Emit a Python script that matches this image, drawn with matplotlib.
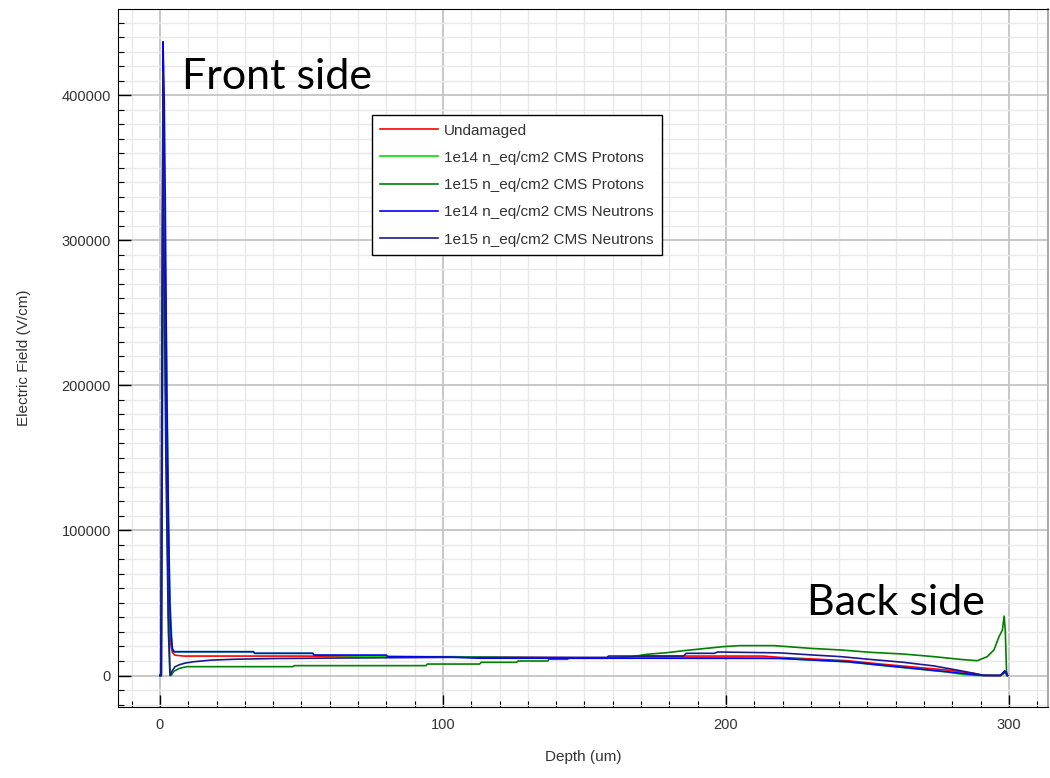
import matplotlib
matplotlib.use("Agg")
import matplotlib.pyplot as plt
from matplotlib.ticker import MultipleLocator

# Datos (profundidad en um, campo en V/cm)
depth_undamaged = [0, 0.4, 1.1, 2.0, 3.0, 3.8, 4.4, 5.3, 8.5, 50, 100, 140, 160, 165, 171,
                   213, 219, 243, 254.6, 268.8, 278, 287.6, 291, 297, 298.5, 299.5]
field_undamaged = [0, 0, 390000, 200000, 40000, 22000, 16000, 14000, 13400, 13400, 12800, 12300,
                   12000, 12500, 13400, 13400, 12500, 10200, 7900, 5400, 3800, 1500, 0, 0, 2500, 0]

depth_p14 = [0, 0.5, 1.1, 2.4, 3.0, 3.4, 3.8, 4.4, 5.2, 33, 33.5, 54, 54.5, 80, 104, 140,
             170, 200, 219, 243, 254.6, 266.4, 278, 285, 290, 297, 298.5, 299.5]
field_p14 = [0, 0, 380000, 215000, 112000, 65000, 40000, 18000, 16400, 16400, 15300, 15300,
             14100, 13000, 13000, 12000, 12200, 12200, 11800, 9400, 7000, 4700, 2400, 300, 0, 0, 2000, 0]

depth_p15 = [0, 0.5, 1.2, 1.9, 2.2, 2.6, 3.1, 3.5, 3.9, 5, 7, 9.5, 47, 47.5, 94, 94.5, 113,
             113.5, 126, 126.5, 137, 137.5, 144, 144.5, 158, 167, 172, 179, 185, 192, 199,
             205, 217, 230, 240.6, 251, 262.7, 273.5, 282.9, 288.8, 292.3, 294.7, 296.5,
             297.7, 298.3, 298.7, 299.2]
field_p15 = [0, 0, 306000, 262000, 190000, 148000, 60000, 2000, 0, 3000, 5000, 6100, 6100, 6800,
             6800, 7900, 7900, 9100, 9100, 10000, 10000, 11200, 11200, 11900, 11900, 13000, 14600,
             15700, 17100, 18500, 19900, 20600, 20600, 18700, 17600, 16000, 14800, 13000, 11100,
             10200, 13000, 17600, 26800, 31400, 41000, 31000, 0]

depth_n14 = [0, 0.5, 1.1, 1.5, 1.9, 2.4, 3.0, 3.5, 4.0, 4.4, 5.0, 33, 33.5, 54, 54.5, 80, 80.5,
             102, 113, 170, 219, 243, 254.6, 266.4, 278, 287.6, 291, 297, 298.5, 299.5]
field_n14 = [0, 0, 437000, 400000, 325000, 200000, 110000, 50000, 27000, 18400, 16400, 16400,
             15300, 15300, 14100, 14100, 13000, 12800, 11900, 11900, 11800, 9500, 7200, 4900,
             2600, 600, 0, 0, 3300, 0]

depth_n15 = [0, 0.3, 1.1, 1.4, 2.1, 3.0, 3.6, 4.3, 5.3, 7, 9, 12, 18, 26, 40, 60, 102, 158,
             158.5, 185, 186, 196, 197, 219, 231, 240.6, 251, 262.7, 273.5, 282.9, 288.8, 291,
             297, 299, 299.5]
field_n15 = [0, 0, 416000, 300000, 150000, 30000, 0, 3000, 6000, 7500, 8600, 9500, 10600, 11200,
             11700, 12000, 12500, 12500, 13400, 13400, 15300, 15300, 16200, 15600, 14100, 13000,
             11100, 9100, 6600, 3300, 1000, 200, 0, 2600, 0]

series = [
    (depth_undamaged, field_undamaged, "#ff0000", "Undamaged"),
    (depth_p14, field_p14, "#00e000", "1e14 n_eq/cm2 CMS Protons"),
    (depth_p15, field_p15, "#008000", "1e15 n_eq/cm2 CMS Protons"),
    (depth_n14, field_n14, "#0000ff", "1e14 n_eq/cm2 CMS Neutrons"),
    (depth_n15, field_n15, "#1a1a8c", "1e15 n_eq/cm2 CMS Neutrons"),
]

plt.rcParams['font.family'] = ['Liberation Sans', 'DejaVu Sans']

fig = plt.figure(figsize=(10.5, 7.78), dpi=100)
ax = fig.add_axes([0.1124, 0.0913, 0.8857, 0.8971])

for x, y, c, lab in series:
    ax.plot(x, y, color=c, linewidth=1.2, label=lab)

ax.set_xlim(-14.8, 313.8)
ax.set_ylim(-21700, 459600)

ax.xaxis.set_major_locator(MultipleLocator(100))
ax.xaxis.set_minor_locator(MultipleLocator(10))
ax.yaxis.set_major_locator(MultipleLocator(100000))
ax.yaxis.set_minor_locator(MultipleLocator(10000))

ax.grid(which="minor", color="#e9e9e9", linewidth=1.0)
ax.grid(which="major", color="#c4c4c4", linewidth=1.3)
ax.set_axisbelow(True)

ax.tick_params(which="major", direction="in", length=9, width=1, labelsize=10.5,
               labelcolor="#333333", pad=5)
ax.tick_params(which="minor", direction="in", length=4, width=0.8)
ax.tick_params(axis="x", pad=8)

ax.spines["right"].set_color("#aaaaaa")
ax.spines["right"].set_linewidth(1.5)

ax.set_xlabel("Depth (um)", fontsize=11, color="#333333", labelpad=13)
ax.set_ylabel("Electric Field (V/cm)", fontsize=11, color="#333333", labelpad=22)

leg = ax.legend(loc="upper left", bbox_to_anchor=(0.273, 0.848), fontsize=11,
                frameon=True, fancybox=False, framealpha=1, edgecolor="black",
                handlelength=3.8, handletextpad=0.35, borderpad=0.55, labelspacing=0.87,
                borderaxespad=0)
leg.get_frame().set_linewidth(1.0)
for t in leg.get_texts():
    t.set_color("#333333")

fig.text(0.264, 0.901, "Front side", fontsize=31, family="Lato", ha="center", va="center")
fig.text(0.853, 0.225, "Back side", fontsize=31, family="Lato", ha="center", va="center")

fig.savefig("out.png", dpi=100)
